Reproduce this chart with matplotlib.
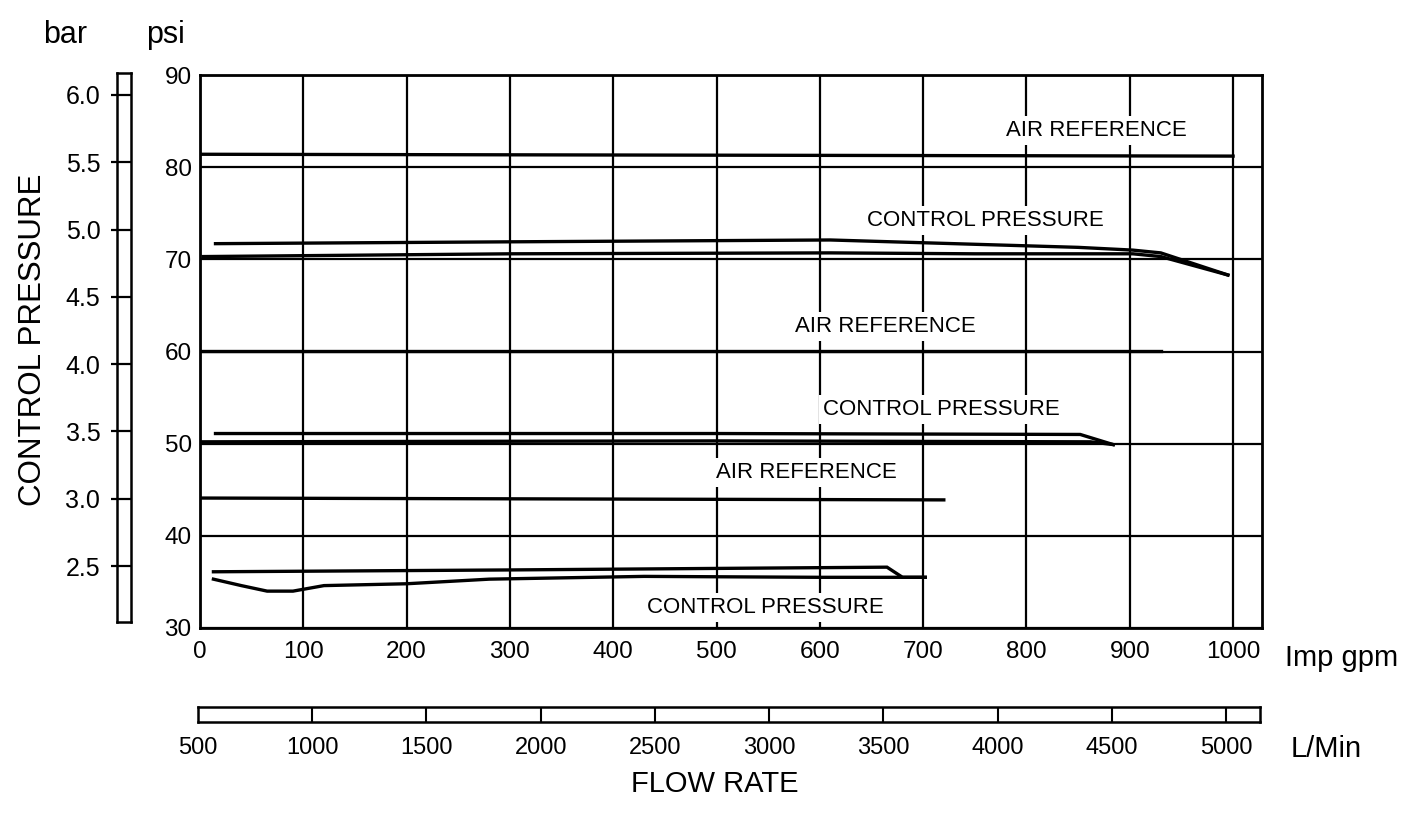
import matplotlib
matplotlib.use("Agg")
import matplotlib.pyplot as plt
from matplotlib import font_manager

# Flow in Imp gpm, pressure in psi.
air_ref_1_gpm = [0, 1000]
air_ref_1_psi = [81.4, 81.2]

control_1_upper_gpm = [15, 300, 610, 700, 850, 903, 930, 995]
control_1_upper_psi = [71.7, 71.9, 72.1, 71.8, 71.3, 71.0, 70.7, 68.3]
control_1_lower_gpm = [3, 300, 610, 750, 903, 930, 995]
control_1_lower_psi = [70.3, 70.6, 70.7, 70.6, 70.6, 70.3, 68.3]

air_ref_2_gpm = [0, 930]
air_ref_2_psi = [60.1, 60.1]

control_2_upper_gpm = [15, 500, 852, 884]
control_2_upper_psi = [51.1, 51.1, 51.0, 49.9]
control_2_lower_gpm = [0, 500, 862, 884]
control_2_lower_psi = [50.2, 50.3, 50.2, 49.9]

air_ref_3_gpm = [0, 720]
air_ref_3_psi = [44.1, 43.9]

control_3_upper_gpm = [13, 300, 665, 680, 702]
control_3_upper_psi = [36.1, 36.3, 36.6, 35.5, 35.5]
control_3_lower_gpm = [13, 40, 65, 90, 100, 120, 200, 280, 430, 600, 702]
control_3_lower_psi = [35.3, 34.6, 34.0, 34.0, 34.2, 34.6, 34.8, 35.3, 35.6, 35.5, 35.5]

# label text, position (gpm, psi)
curve_labels = ["AIR REFERENCE", "CONTROL PRESSURE", "AIR REFERENCE",
                "CONTROL PRESSURE", "AIR REFERENCE", "CONTROL PRESSURE"]
curve_label_gpm = [868, 760, 663, 718, 587, 547]
curve_label_psi = [84.0, 74.2, 62.7, 53.7, 46.9, 32.2]

gpm_ticks = [0, 100, 200, 300, 400, 500, 600, 700, 800, 900, 1000]
psi_ticks = [30, 40, 50, 60, 70, 80, 90]
bar_ticks = [2.5, 3.0, 3.5, 4.0, 4.5, 5.0, 5.5, 6.0]
lmin_ticks = [500, 1000, 1500, 2000, 2500, 3000, 3500, 4000, 4500, 5000]

installed = {f.name for f in font_manager.fontManager.ttflist}
label_font = ["Liberation Sans Narrow"] if "Liberation Sans Narrow" in installed else ["Liberation Sans"]
plt.rcParams['font.family'] = ['Liberation Sans', 'DejaVu Sans']

W, H = 1413, 822
fig = plt.figure(figsize=(W / 100, H / 100), dpi=100)


def box(x0, y0, x1, y1):
    # pixel box (top-left origin) -> figure fraction rect
    return [x0 / W, 1 - y1 / H, (x1 - x0) / W, (y1 - y0) / H]


ax = fig.add_axes(box(200, 75, 1262, 628))
ax.set_xlim(0, 1028)
ax.set_ylim(30, 90)
ax.set_xticks(gpm_ticks)
ax.set_yticks(psi_ticks)
ax.grid(True, color='black', lw=1.6, zorder=1)
ax.set_axisbelow(True)
ax.tick_params(axis='y', length=0, labelsize=17.5, pad=6)
ax.tick_params(axis='x', length=0, labelsize=17.5, pad=9)
for s in ax.spines.values():
    s.set_linewidth(2.0)

curves = [
    (air_ref_1_gpm, air_ref_1_psi),
    (control_1_upper_gpm, control_1_upper_psi),
    (control_1_lower_gpm, control_1_lower_psi),
    (air_ref_2_gpm, air_ref_2_psi),
    (control_2_upper_gpm, control_2_upper_psi),
    (control_2_lower_gpm, control_2_lower_psi),
    (air_ref_3_gpm, air_ref_3_psi),
    (control_3_upper_gpm, control_3_upper_psi),
    (control_3_lower_gpm, control_3_lower_psi),
]
for xs, ys in curves:
    ax.plot(xs, ys, color='black', lw=2.4, solid_joinstyle='miter', zorder=3)

for txt, gx, py in zip(curve_labels, curve_label_gpm, curve_label_psi):
    ax.text(gx, py, txt, ha='center', va='center', fontsize=16, family=label_font,
            bbox=dict(facecolor='white', edgecolor='none', pad=3), zorder=4)

# bar scale strip on the left
bax = fig.add_axes(box(117, 73, 131, 622))
bax.set_xlim(0, 1)
bax.set_ylim(2.084, 6.163)
bax.set_xticks([])
bax.set_yticks(bar_ticks)
bax.set_yticklabels([f"{b:.1f}" for b in bar_ticks])
bax.tick_params(axis='y', length=4, width=1.6, labelsize=18, pad=8)
for b in bar_ticks:
    bax.axhline(b, color='black', lw=1.6)
for s in bax.spines.values():
    s.set_linewidth(1.8)

# L/Min strip below
sax = fig.add_axes(box(198, 707, 1260, 722))
sax.set_xlim(500, 5149)
sax.set_ylim(0, 1)
sax.set_yticks([])
sax.set_xticks(lmin_ticks)
sax.tick_params(axis='x', length=0, labelsize=17, pad=11)
for v in lmin_ticks[1:]:
    sax.axvline(v, color='black', lw=1.5)
for s in sax.spines.values():
    s.set_linewidth(1.8)

fig.text(65 / W, 1 - 35 / H, "bar", ha='center', va='center', fontsize=22)
fig.text(165 / W, 1 - 35 / H, "psi", ha='center', va='center', fontsize=22)
fig.text(33 / W, 1 - 340 / H, "CONTROL PRESSURE", rotation=90, ha='center', va='center', fontsize=22.5)
fig.text(1285 / W, 1 - 658 / H, "Imp gpm", ha='left', va='center', fontsize=21)
fig.text(1291 / W, 1 - 749 / H, "L/Min", ha='left', va='center', fontsize=21)
fig.text(715 / W, 1 - 784 / H, "FLOW RATE", ha='center', va='center', fontsize=21)

fig.savefig("out.png", dpi=100, facecolor='white')
